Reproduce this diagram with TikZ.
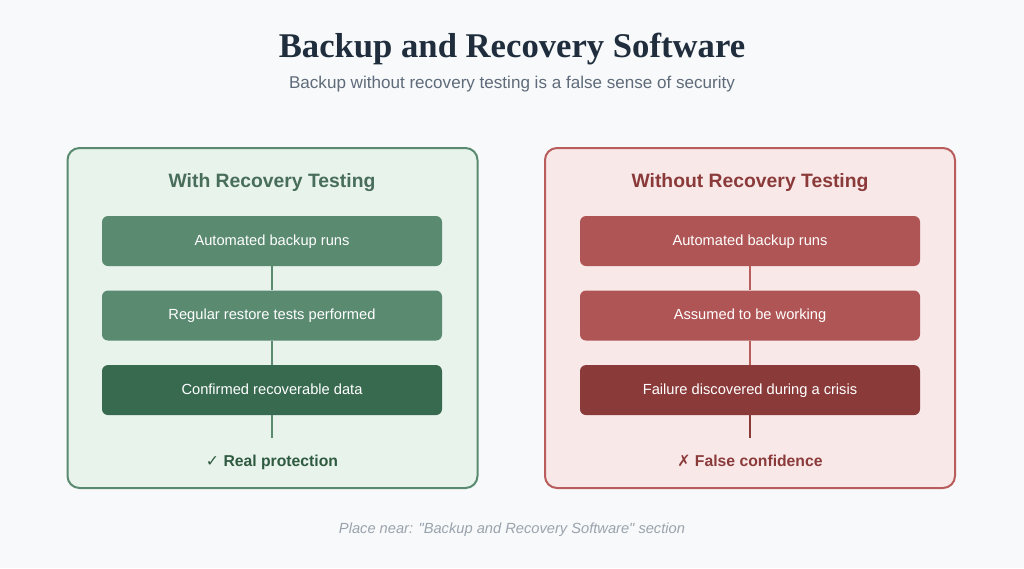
\documentclass[tikz,border=0pt]{standalone}
\usepackage{fontspec}
\setmainfont{Liberation Sans}
\newfontfamily\titlefont{Liberation Serif}
\newfontfamily\symfont{DejaVu Sans}
\usepackage{xcolor}
\usepackage{tikz}
\usetikzlibrary{positioning}
\definecolor{pagebg}{HTML}{F7F9FA}
\definecolor{titleink}{HTML}{1F2D3D}
\definecolor{subink}{HTML}{5F6B7A}
\definecolor{noteink}{HTML}{9AA3AD}
\definecolor{goodbg}{HTML}{E8F3EC}
\definecolor{goodedge}{HTML}{5A8A70}
\definecolor{goodstep}{HTML}{5A8A70}
\definecolor{gooddark}{HTML}{386A50}
\definecolor{goodink}{HTML}{2E5A40}
\definecolor{badbg}{HTML}{F9E8E8}
\definecolor{badedge}{HTML}{B85C5C}
\definecolor{badstep}{HTML}{B05555}
\definecolor{baddark}{HTML}{8B3A3A}
\definecolor{badink}{HTML}{8B3A3A}

\begin{document}
\begin{tikzpicture}[
    x=0.75pt, y=-0.75pt,
    panel/.style={rectangle, draw, line width=1.5pt, rounded corners=9pt, minimum width=307.5pt, minimum height=255pt},
    paneltitle/.style={font=\bfseries\fontsize{14.5}{17}\selectfont},
    stepbox/.style={rectangle, rounded corners=4.5pt, minimum width=255pt, minimum height=37.5pt, text=white, text depth=0.25ex, font=\fontsize{11}{13}\selectfont},
    verdict/.style={font=\bfseries\fontsize{11.8}{14}\selectfont},
    link/.style={line width=1.5pt}
]
\fill[pagebg] (0,0) rectangle (1024,568);
\node[font=\titlefont\bfseries\fontsize{26}{30}\selectfont, text=titleink] (title) at (512,49) {Backup and Recovery Software};
\node[font=\fontsize{12.8}{15}\selectfont, text=subink] (subtitle) at (512,84) {Backup without recovery testing is a false sense of security};

% with testing
\node[panel, draw=goodedge, fill=goodbg] (good) at (272.5,318) {};
\node[paneltitle, text=goodedge!80!black] (goodtitle) at (272,183) {With Recovery Testing};
\node[stepbox, fill=goodstep] (g1) at (272,241) {Automated backup runs};
\node[stepbox, fill=goodstep, below=18pt of g1] (g2) {Regular restore tests performed};
\node[stepbox, fill=gooddark, below=18pt of g2] (g3) {Confirmed recoverable data};
\coordinate[below=17.25pt of g3] (gend);
\draw[link, goodedge] (g1) -- (g2);
\draw[link, goodedge] (g2) -- (g3);
\draw[link, goodedge] (g3) -- (gend);
\node[verdict, text=goodink] (gverdict) at (272,462) {{\symfont ✓} Real protection};

% without testing
\node[panel, draw=badedge, fill=badbg] (bad) at (750,318) {};
\node[paneltitle, text=badink] (badtitle) at (750,183) {Without Recovery Testing};
\node[stepbox, fill=badstep] (b1) at (750,241) {Automated backup runs};
\node[stepbox, fill=badstep, below=18pt of b1] (b2) {Assumed to be working};
\node[stepbox, fill=baddark, below=18pt of b2] (b3) {Failure discovered during a crisis};
\coordinate[below=17.25pt of b3] (bend);
\draw[link, badedge] (b1) -- (b2);
\draw[link, badedge] (b2) -- (b3);
\draw[link, baddark] (b3) -- (bend);
\node[verdict, text=badink] (bverdict) at (750,461) {{\symfont ✗} False confidence};

\node[font=\itshape\fontsize{11}{13}\selectfont, text=noteink] (note) at (512,530) {Place near: \textquotedbl Backup and Recovery Software\textquotedbl{} section};
\end{tikzpicture}
\end{document}
